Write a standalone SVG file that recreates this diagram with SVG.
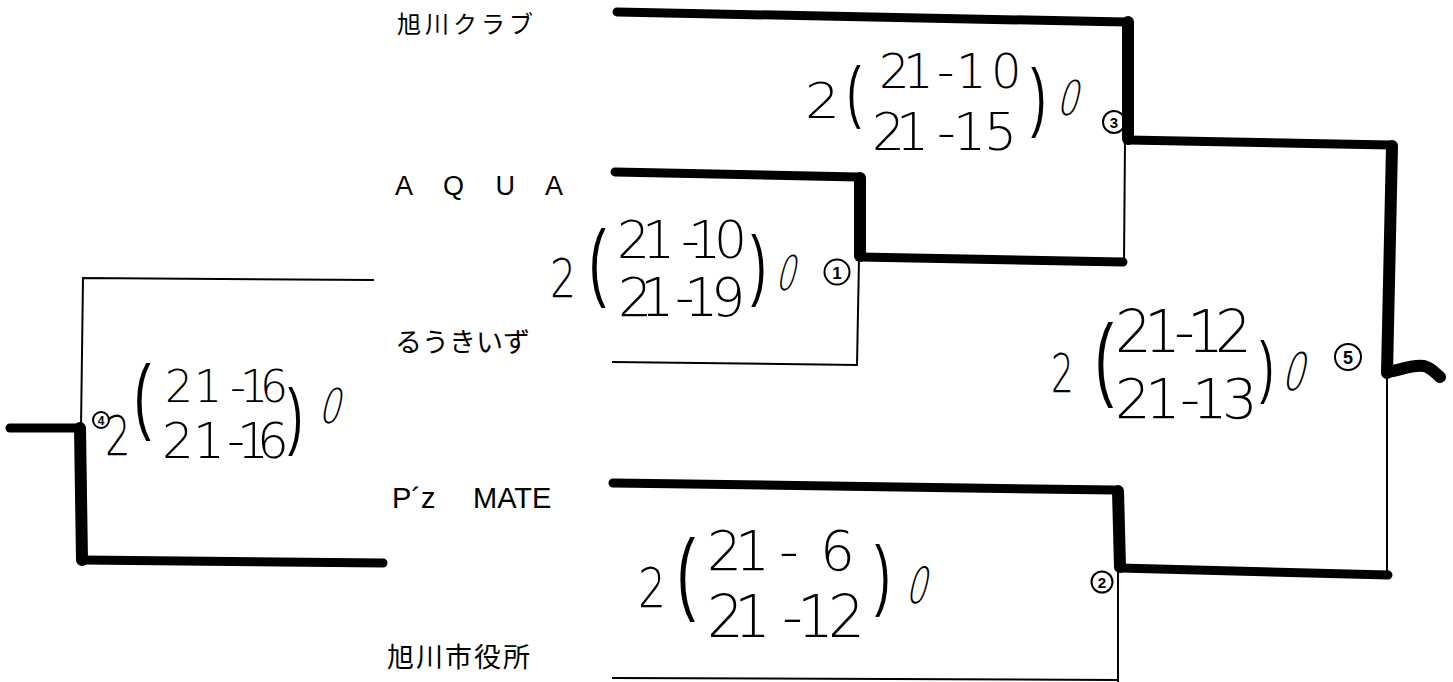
<svg xmlns="http://www.w3.org/2000/svg" width="1453" height="682" viewBox="0 0 1453 682">
<style>
.team{font-family:"Noto Sans CJK JP","Liberation Sans",sans-serif;font-size:25px;fill:#000}
.lat{font-family:"Liberation Sans",Arial,sans-serif;fill:#000}
.hw{font-family:"DejaVu Sans","Noto Sans",sans-serif;font-weight:200;fill:#000}
.pr{font-family:"Liberation Sans",sans-serif;fill:#000}
.cn{fill:#fff;stroke:#000;stroke-width:2}
.cd{font-family:"Liberation Sans",Arial,sans-serif;font-weight:bold;text-anchor:middle;fill:#000}
.thin{fill:none;stroke:#000;stroke-width:2;stroke-linecap:square}
.th{fill:none;stroke:#000;stroke-width:9;stroke-linecap:round;stroke-linejoin:round}
.tv{fill:none;stroke:#000;stroke-width:12;stroke-linecap:round;stroke-linejoin:round}
</style>
<rect width="1453" height="682" fill="#fff"/>

<g id="team-asahikawa-club"><text class="team" x="397" y="33" style="font-size:24px;letter-spacing:4px">旭川クラブ</text></g>
<g id="team-aqua"><text class="lat" x="395" y="195" style="font-size:27px;letter-spacing:12px" xml:space="preserve">A Q U A</text></g>
<g id="team-ruukiizu"><text class="team" x="395" y="352" style="font-size:27px">るうきいず</text></g>
<g id="team-pz-mate"><text class="lat" x="392" y="508" style="font-size:29px">P´z<tspan x="473">MATE</tspan></text></g>
<g id="team-asahikawa-city"><text class="team" x="387" y="667" style="font-size:27px;letter-spacing:2px">旭川市役所</text></g>

<g id="match1">
<text class="hw" transform="translate(550,297) scale(0.76,1)" font-size="54">2</text>
<text class="pr" transform="translate(589,290) scale(0.6,1)" font-size="85">(</text>
<text class="hw" x="617 642 681 688 714" y="258" font-size="52">21-10</text>
<text class="hw" x="618 640 675 684 711" y="316" font-size="54">21-19</text>
<text class="pr" transform="translate(751,291) scale(0.6,1)" font-size="77">)</text>
<text class="hw" transform="translate(775,290) skewX(-14) scale(0.62,1)" font-size="48">0</text>
<circle class="cn" cx="837" cy="272" r="12.5"/><text class="cd" x="837" y="278.5" font-size="17">1</text>
</g>

<g id="match2">
<text class="hw" transform="translate(638,607) scale(0.8,1)" font-size="55">2</text>
<text class="pr" transform="translate(677,603) scale(0.6,1)" font-size="91">(</text>
<text class="hw" x="707 735 779 820" y="570" font-size="55">21-6</text>
<text class="hw" x="707 734 782 797 828" y="637" font-size="58">21-12</text>
<text class="pr" transform="translate(875,601) scale(0.6,1)" font-size="77">)</text>
<text class="hw" transform="translate(905,603) skewX(-14) scale(0.65,1)" font-size="50">0</text>
<circle class="cn" cx="1102" cy="582" r="10.5"/><text class="cd" x="1102" y="587.5" font-size="15">2</text>
</g>

<g id="match3">
<text class="hw" transform="translate(805,118) scale(1.1,1)" font-size="50">2</text>
<text class="pr" transform="translate(847,115) scale(0.6,1)" font-size="69">(</text>
<text class="hw" x="879 903 937 956 991" y="88" font-size="48">21-10</text>
<text class="hw" x="872 896 937 953 984" y="150" font-size="52">21-15</text>
<text class="pr" transform="translate(1031,122) scale(0.6,1)" font-size="76">)</text>
<text class="hw" transform="translate(1056,115) skewX(-14) scale(0.7,1)" font-size="48">0</text>
<circle class="cn" cx="1114" cy="122" r="11"/><text class="cd" x="1114" y="127.5" font-size="15">3</text>
</g>

<g id="match4">
<circle class="cn" cx="101" cy="420" r="8"/><text class="cd" x="101" y="424.5" font-size="12">4</text>
<text class="hw" transform="translate(105,455) scale(0.72,1)" font-size="56">2</text>
<text class="pr" transform="translate(134,424) scale(0.6,1)" font-size="84">(</text>
<text class="hw" x="165 194 230 240 260" y="402" font-size="44">21-16</text>
<text class="hw" x="162 193 227 237 257" y="458" font-size="50">21-16</text>
<text class="pr" transform="translate(288,441) scale(0.6,1)" font-size="74">)</text>
<text class="hw" transform="translate(318,423) skewX(-14) scale(0.7,1)" font-size="48">0</text>
</g>

<g id="match5">
<text class="hw" transform="translate(1051,392) scale(0.66,1)" font-size="54">2</text>
<text class="pr" transform="translate(1095,389) scale(0.6,1)" font-size="92">(</text>
<text class="hw" x="1115 1144 1174 1187 1215" y="352" font-size="58">21-12</text>
<text class="hw" x="1115 1145 1180 1192 1222" y="418" font-size="56">21-13</text>
<text class="pr" transform="translate(1260,390) scale(0.6,1)" font-size="69">)</text>
<text class="hw" transform="translate(1281,390) skewX(-14) scale(0.68,1)" font-size="52">0</text>
<circle class="cn" cx="1348" cy="357" r="13"/><text class="cd" x="1348" y="363.5" font-size="18">5</text>
</g>

<g id="connectors">
<path class="thin" d="M373,280 L83,278 L81,428"/>
<path class="th" d="M10,428 L80,428"/>
<path class="tv" d="M80,428 L82,560"/>
<path class="th" d="M82,560 L383,563"/>
<path class="th" d="M615,172 L858,177"/>
<path class="tv" d="M860,178 L860,256"/>
<path class="th" d="M860,257 L1123,262"/>
<path class="thin" d="M859,259 L857,365 L613,362"/>
<path class="th" d="M617,12 L1126,22"/>
<path class="tv" d="M1128,22 L1128,139"/>
<path class="th" d="M1128,140 L1390,145"/>
<path class="thin" d="M1125,141 L1124,262"/>
<path class="th" d="M613,483 L1114,490"/>
<path class="tv" d="M1118,491 L1120,567"/>
<path class="th" d="M1120,568 L1388,575"/>
<path class="thin" d="M1118,572 L1118,682"/>
<path class="thin" d="M613,678 L1118,680"/>
<path class="tv" d="M1392,146 L1387,373"/>
<path class="tv" d="M1387,372 C1402,370 1412,364 1424,366 C1432,368 1436,374 1440,377"/>
<path class="thin" d="M1387,374 L1387,575"/>
</g>
</svg>
